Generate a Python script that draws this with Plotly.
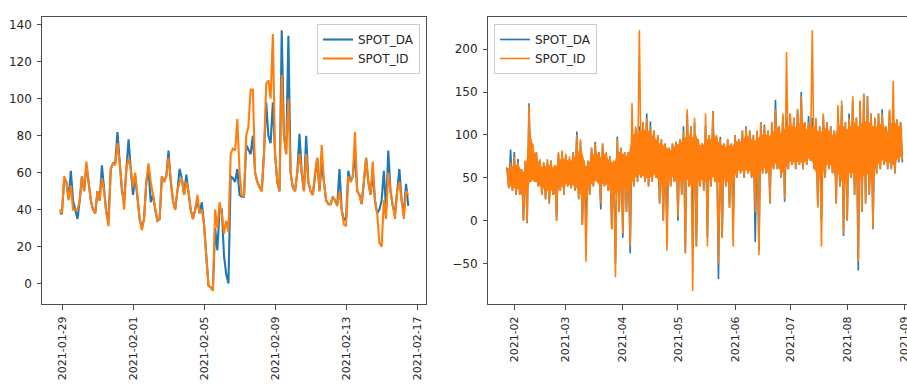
import pandas as pd
import plotly.graph_objects as go

# ---------------- Left panel data (3-hourly samples) ----------------
left_start = "2021-01-29 00:00"
left_da = [38, 38, 57, 55, 46, 61, 45, 40, 35, 45,
           58, 50, 64, 55, 45, 40, 38, 50, 45, 64,
           50, 38, 36, 62, 65, 65, 82, 65, 50, 45,
           62, 78, 62, 48, 58, 48, 35, 30, 35, 55,
           62, 44, 48, 40, 34, 35, 58, 55, 58, 72,
           55, 45, 40, 50, 62, 57, 48, 59, 50, 40,
           35, 40, 45, 38, 44, 32, 15, -1, -2, -3,
           30, 18, 40, 40, 15, 5, 0, 58, 57, 55,
           62, 48, 47, 47, 75, 72, 70, 80, 60, 55,
           52, 50, 70, 98, 80, 76, 98, 70, 55, 50,
           137, 80, 70, 134, 60, 52, 50, 60, 81, 60,
           50, 80, 55, 50, 48, 60, 68, 50, 65, 55,
           45, 43, 43, 47, 45, 42, 62, 40, 34, 36,
           61, 55, 58, 70, 50, 48, 43, 55, 68, 55,
           48, 60, 45, 38, 40, 45, 61, 40, 72, 50,
           42, 38, 50, 62, 45, 38, 54, 42]
left_id = [40, 38, 58, 55, 45, 53, 40, 40, 40, 45,
           58, 50, 66, 55, 45, 40, 38, 50, 45, 57,
           50, 38, 31, 62, 65, 64, 76, 65, 50, 40,
           62, 68, 62, 52, 60, 48, 35, 29, 35, 55,
           65, 55, 48, 40, 34, 35, 58, 55, 58, 68,
           55, 45, 40, 50, 55, 57, 48, 55, 50, 40,
           35, 40, 48, 38, 40, 32, 15, -1, -2, -4,
           40, 30, 44, 38, 27, 34, 28, 70, 73, 72,
           89, 60, 48, 47, 80, 85, 105, 105, 60, 55,
           52, 50, 70, 108, 110, 100, 135, 70, 55, 50,
           113, 80, 70, 100, 60, 52, 50, 60, 70, 60,
           50, 70, 55, 50, 48, 60, 68, 50, 75, 55,
           45, 43, 43, 47, 45, 42, 50, 40, 32, 31,
           58, 55, 58, 82, 50, 48, 43, 55, 68, 55,
           48, 66, 45, 38, 22, 20, 45, 35, 60, 50,
           42, 35, 50, 55, 45, 35, 50, 48]
left_tick_dates = ["2021-01-29 04:00", "2021-02-02 04:00", "2021-02-06 04:00",
                   "2021-02-10 04:00", "2021-02-14 04:00", "2021-02-18 04:00"]
left_tick_labels = ["2021-01-29", "2021-02-01", "2021-02-05",
                    "2021-02-09", "2021-02-13", "2021-02-17"]
left_yticks = [0, 20, 40, 60, 80, 100, 120, 140]

# ---------------- Right panel data (2-day buckets) ----------------
right_start = "2021-01-28"
# extreme high / low of each 2-day bucket
right_id_hi = [62, 68, 75, 68, 60, 70, 135, 90, 80, 72,
               68, 72, 70, 65, 80, 82, 78, 75, 80, 100,
               95, 70, 70, 85, 90, 80, 90, 80, 75, 70,
               95, 85, 80, 80, 137, 110, 222, 115, 120, 110,
               105, 100, 95, 90, 85, 90, 92, 95, 105, 130,
               110, 120, 95, 90, 125, 100, 128, 100, 95, 90,
               95, 90, 100, 95, 105, 110, 105, 100, 105, 115,
               110, 105, 115, 130, 110, 125, 197, 125, 120, 130,
               145, 115, 115, 222, 120, 110, 125, 115, 110, 105,
               135, 140, 115, 120, 145, 120, 140, 148, 145, 125,
               120, 125, 125, 110, 130, 163, 118, 115]
right_id_lo = [38, 35, 30, 30, 0, -2, 45, 45, 40, 30,
               25, 20, 30, 0, 35, 30, 40, 38, 35, 25,
               -5, -48, 30, 40, 45, 20, 40, 35, -10, -66,
               10, -15, 10, -30, 40, 45, 50, 45, 40, 45,
               50, 20, 0, -35, 40, 45, 5, 30, -38, 40,
               -82, -30, 40, 35, -30, 40, 45, -50, -20, 40,
               15, -30, 50, 55, 50, 55, 50, 10, -40, 55,
               55, 20, 60, 60, 50, 25, 60, 65, 60, 65,
               60, 65, 70, 60, 15, -30, 50, 60, 55, 20,
               40, -15, 0, 50, 30, -48, 10, 20, 30, -10,
               55, 60, 65, 60, 60, 55, 70, 70]
# typical (dense) range of each 2-day bucket
right_id_core_hi = [60, 62, 65, 62, 55, 60, 100, 80, 70, 62,
                    62, 65, 62, 60, 70, 72, 70, 68, 72, 80,
                    80, 62, 65, 75, 80, 72, 78, 72, 68, 65,
                    80, 78, 75, 75, 100, 100, 105, 105, 105, 100,
                    95, 90, 88, 85, 80, 85, 88, 90, 95, 100,
                    95, 100, 88, 85, 95, 92, 100, 92, 88, 85,
                    88, 85, 92, 90, 95, 98, 95, 92, 95, 100,
                    100, 98, 100, 110, 100, 105, 110, 110, 108, 110,
                    115, 105, 108, 110, 105, 100, 108, 105, 100, 98,
                    110, 110, 105, 108, 115, 108, 112, 115, 115, 110,
                    108, 112, 112, 100, 112, 115, 110, 108]
right_id_core_lo = [42, 40, 38, 38, 30, 35, 48, 48, 45, 40,
                    38, 35, 38, 30, 42, 40, 45, 42, 42, 38,
                    30, 25, 40, 45, 48, 42, 45, 42, 35, 30,
                    40, 35, 40, 35, 50, 52, 55, 52, 50, 52,
                    55, 48, 40, 40, 50, 52, 45, 48, 45, 50,
                    40, 40, 50, 48, 45, 50, 52, 45, 45, 50,
                    45, 42, 58, 60, 58, 60, 58, 50, 50, 62,
                    62, 55, 65, 68, 60, 55, 68, 70, 68, 70,
                    68, 70, 75, 68, 55, 50, 62, 68, 65, 55,
                    55, 45, 45, 60, 55, 45, 50, 55, 55, 45,
                    65, 68, 72, 68, 68, 65, 75, 75]
right_da_hi = [62, 83, 80, 72, 60, 70, 137, 88, 80, 70,
               68, 70, 70, 65, 78, 80, 76, 72, 80, 104,
               92, 70, 70, 85, 92, 80, 90, 78, 75, 70,
               98, 85, 80, 80, 100, 108, 110, 115, 125, 116,
               105, 100, 95, 90, 85, 90, 92, 95, 110, 125,
               110, 115, 95, 90, 110, 100, 128, 98, 98, 90,
               95, 90, 100, 95, 105, 110, 105, 100, 105, 115,
               112, 105, 115, 141, 110, 122, 120, 125, 120, 130,
               150, 115, 122, 120, 118, 110, 122, 115, 110, 105,
               130, 135, 115, 125, 140, 120, 140, 148, 145, 125,
               120, 125, 130, 110, 128, 125, 118, 115]
right_da_lo = [38, 35, 30, 30, 0, -3, 45, 45, 40, 30,
               25, 20, 30, 0, 35, 30, 40, 38, 35, 25,
               -5, 0, 30, 40, 45, 13, 40, 35, -10, -50,
               10, -20, 10, -38, 40, 45, 50, 45, 40, 45,
               50, 20, 0, -10, 40, 45, 0, 30, -38, 40,
               -30, -30, 40, 35, -20, 40, 45, -68, -20, 40,
               15, 0, 50, 55, 50, 55, 50, -25, -35, 55,
               55, 20, 60, 60, 50, 22, 60, 65, 60, 65,
               60, 65, 70, 60, 18, 0, 50, 60, 55, 20,
               40, -18, 0, 50, 30, -58, 10, 20, 30, -10,
               55, 60, 65, 60, 60, 55, 68, 68]
right_tick_dates = ["2021-02-01", "2021-03-01", "2021-04-01", "2021-05-01",
                    "2021-06-01", "2021-07-01", "2021-08-01", "2021-09-01"]
right_tick_labels = ["2021-02", "2021-03", "2021-04", "2021-05",
                     "2021-06", "2021-07", "2021-08", "2021-09"]
right_yticks = [-50, 0, 50, 100, 150, 200]
right_xrange = ["2021-01-17 17:00", "2021-09-02 12:00"]

names = ["SPOT_DA", "SPOT_ID"]
colors = ["#1f77b4", "#ff7f0e"]

# ---------------- Build x positions ----------------
lx = pd.date_range(left_start, periods=len(left_id), freq="3h")
lspan = lx[-1] - lx[0]
left_xrange = [str(lx[0] - lspan * 0.05), str(lx[-1] + lspan * 0.05)]
lvals = left_da + left_id
lpad = 0.05 * (max(lvals) - min(lvals))
left_yrange = [min(lvals) - lpad, max(lvals) + lpad]

r0 = pd.Timestamp(right_start)
nb = len(right_id_hi)
rx = []
for k in range(nb):
    rx.append(r0 + pd.Timedelta(days=2 * k))
    rx.append(r0 + pd.Timedelta(days=2 * k + 1))
rc = [r0 + pd.Timedelta(days=2 * k, hours=12) for k in range(nb)]


def zig(hi, lo):
    out = []
    for h, l in zip(hi, lo):
        out.extend([h, l])
    return out


r_da = zig(right_da_hi, right_da_lo)
r_id = zig(right_id_hi, right_id_lo)
rvals = r_da + r_id
rpad = 0.05 * (max(rvals) - min(rvals))
right_yrange = [min(rvals) - rpad, max(rvals) + rpad]

fig = go.Figure()
fig.add_trace(go.Scatter(x=lx, y=left_da, mode="lines", name=names[0],
                         line=dict(color=colors[0], width=2.1),
                         xaxis="x", yaxis="y", legend="legend"))
fig.add_trace(go.Scatter(x=lx, y=left_id, mode="lines", name=names[1],
                         line=dict(color=colors[1], width=2.1),
                         xaxis="x", yaxis="y", legend="legend"))

fig.add_trace(go.Scatter(x=rx, y=r_da, mode="lines", name=names[0],
                         line=dict(color=colors[0], width=1.6),
                         xaxis="x2", yaxis="y2", legend="legend2"))
# dense core of SPOT_ID drawn as a filled band
fig.add_trace(go.Scatter(x=rc + rc[::-1],
                         y=right_id_core_hi + right_id_core_lo[::-1],
                         mode="lines", fill="toself", fillcolor=colors[1],
                         line=dict(color=colors[1], width=1.5),
                         showlegend=False, hoverinfo="skip",
                         xaxis="x2", yaxis="y2"))
fig.add_trace(go.Scatter(x=rx, y=r_id, mode="lines", name=names[1],
                         line=dict(color=colors[1], width=1.6),
                         xaxis="x2", yaxis="y2", legend="legend2"))

W, H = 907, 385
frame = "#4d4d4d"
tickfont = dict(family="DejaVu Sans", size=12, color="#262626")
xtickfont = dict(family="DejaVu Sans", size=11, color="#262626")
ydom = [(H - 304) / H, (H - 17.3) / H]

common_x = dict(type="date", tickangle=-90, ticks="outside", ticklen=5,
                tickcolor=frame, showline=True, linecolor=frame, linewidth=1,
                showgrid=False, zeroline=False, tickfont=xtickfont,
                ticklabelstandoff=2, ticklabeloverflow="allow",
                automargin=False)
common_y = dict(ticks="outside", ticklen=4, tickcolor=frame, showline=True,
                linecolor=frame, linewidth=1, showgrid=False, zeroline=False,
                tickfont=tickfont, ticklabelstandoff=3, automargin=False)

fig.update_layout(
    width=W, height=H,
    margin=dict(l=0, r=0, t=0, b=0, autoexpand=False),
    paper_bgcolor="white", plot_bgcolor="white",
    font=dict(family="DejaVu Sans", size=12, color="#262626"),
    xaxis=dict(common_x, domain=[42.3 / W, 425.7 / W], range=left_xrange,
               tickvals=left_tick_dates, ticktext=left_tick_labels,
               mirror=True, anchor="y"),
    yaxis=dict(common_y, domain=ydom, range=left_yrange,
               tickvals=left_yticks, mirror=True, anchor="x"),
    xaxis2=dict(common_x, domain=[488 / W, 1.0], range=right_xrange,
                tickvals=right_tick_dates, ticktext=right_tick_labels,
                mirror=True, anchor="y2"),
    yaxis2=dict(common_y, domain=ydom, range=right_yrange,
                tickvals=right_yticks, mirror=False, anchor="x2"),
    legend=dict(x=420 / W, y=(H - 24) / H, xanchor="right", yanchor="top",
                bgcolor="rgba(255,255,255,0.8)", bordercolor="#cccccc",
                borderwidth=1, itemwidth=30,
                font=dict(family="DejaVu Sans", size=12, color="#262626")),
    legend2=dict(x=494 / W, y=(H - 24) / H, xanchor="left", yanchor="top",
                 bgcolor="rgba(255,255,255,0.8)", bordercolor="#cccccc",
                 borderwidth=1, itemwidth=30,
                 font=dict(family="DejaVu Sans", size=12, color="#262626")),
    showlegend=True,
)

fig.write_html("out.html", config={"displayModeBar": False})
